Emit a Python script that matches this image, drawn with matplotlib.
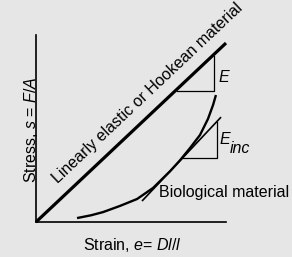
import numpy as np
import matplotlib
matplotlib.use("Agg")
import matplotlib.pyplot as plt

# ---- data (strain, stress in normalised schematic units) ----
linear_strain = [0.0, 1.0]
linear_stress = [0.0, 0.957]

bio_strain = [0.216, 0.290, 0.353, 0.442, 0.532, 0.616, 0.705, 0.758, 0.811, 0.863, 0.905, 0.932, 0.947]
bio_stress = [0.021, 0.036, 0.053, 0.086, 0.123, 0.182, 0.271, 0.330, 0.396, 0.465, 0.551, 0.626, 0.679]

tangent_strain = [0.558, 0.974]
tangent_stress = [0.112, 0.561]

e_tri_strain = [0.742, 0.937, 0.937]
e_tri_stress = [0.703, 0.703, 0.890]

einc_tri_strain = [0.768, 0.953, 0.953]
einc_tri_stress = [0.340, 0.340, 0.537]

axis_x_max = 1.0
axis_y_max = 1.0

linear_label = "Linearly elastic or Hookean material"
bio_label = "Biological material"
e_label = "E"
einc_label = "E"
einc_sub = "inc"
xlabel = "Strain, $e$= $Dl/l$"
ylabel = "Stress, $s$ = $F/A$"

# ---- style ----
plt.rcParams['font.family'] = ['Liberation Sans', 'DejaVu Sans']
plt.rcParams['mathtext.fontset'] = 'custom'
plt.rcParams['mathtext.rm'] = 'Liberation Sans'
plt.rcParams['mathtext.it'] = 'Liberation Sans:italic'
plt.rcParams['mathtext.bf'] = 'Liberation Sans:bold'

bg = '#e6e6e6'
W, H = 292, 257
fig = plt.figure(figsize=(W / 100, H / 100), dpi=100, facecolor=bg)
ax = fig.add_axes([36 / W, (H - 222) / H, 190 / W, 187 / H])
ax.set_facecolor(bg)
ax.set_xlim(0, axis_x_max)
ax.set_ylim(0, axis_y_max)
for s in ['top', 'right']:
    ax.spines[s].set_visible(False)
for s in ['left', 'bottom']:
    ax.spines[s].set_linewidth(1.2)
ax.set_xticks([])
ax.set_yticks([])

fs = 11.5
ax.plot(linear_strain, linear_stress, color='black', lw=2.3, solid_capstyle='butt', clip_on=False)
ax.plot(bio_strain, bio_stress, color='black', lw=1.7, solid_capstyle='butt',
        solid_joinstyle='round', clip_on=False)
ax.plot(tangent_strain, tangent_stress, color='black', lw=1.2, solid_capstyle='butt', clip_on=False)
ax.plot(e_tri_strain, e_tri_stress, color='black', lw=0.9, clip_on=False)
ax.plot(einc_tri_strain, einc_tri_stress, color='black', lw=0.9, clip_on=False)

ax.text(0.589, 0.690, linear_label, rotation=43.3, ha='center', va='center', fontsize=fs, clip_on=False)
ax.text(0.647, 0.134, bio_label, ha='left', va='baseline', fontsize=fs, clip_on=False)
ax.text(0.958, 0.749, e_label, ha='left', va='baseline', fontsize=fs, style='italic', clip_on=False)
ax.text(0.968, 0.417, einc_label, ha='left', va='baseline', fontsize=fs, style='italic', clip_on=False)
ax.text(1.022, 0.369, einc_sub, ha='left', va='baseline', fontsize=fs, style='italic', clip_on=False)
ax.text(0.247, -0.150, xlabel, ha='left', va='baseline', fontsize=fs, clip_on=False)
ax.text(-0.026, 0.492, ylabel, rotation=90, ha='center', va='center', fontsize=fs, clip_on=False)

fig.savefig('out.png', dpi=100, facecolor=bg)
